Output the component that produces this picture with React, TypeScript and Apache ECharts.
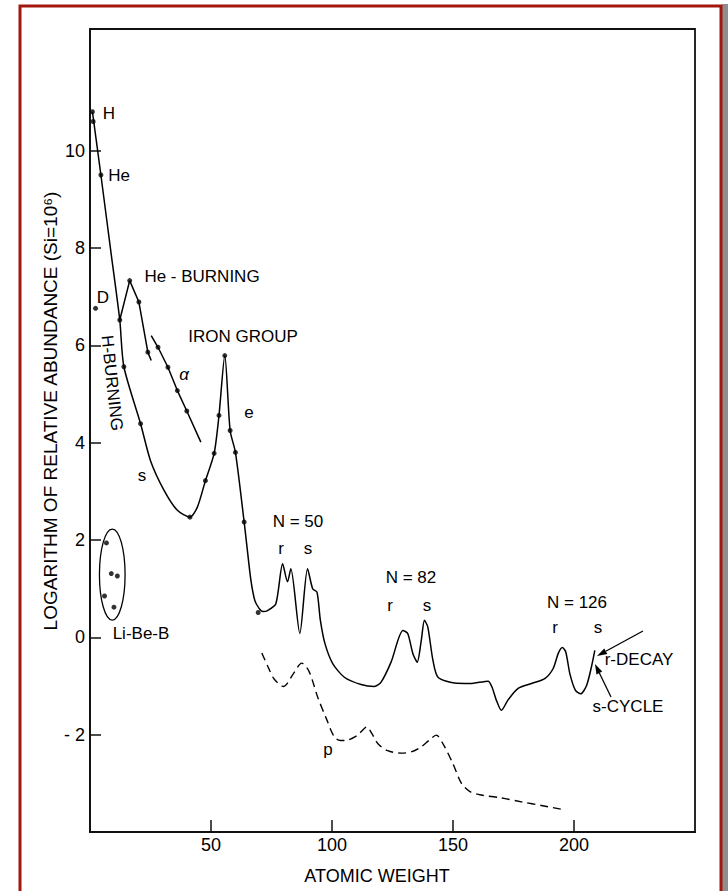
import React, { useEffect, useRef } from "react";
import * as echarts from "echarts";

// Atomic weight (x) and log abundance, Si = 10^6 (y)
const mainWeight = [1, 4.5, 8.5, 12.3, 14, 20.9, 25, 30.6, 36.1, 41.3, 44.4, 47.7, 51.3, 53.3, 55.7, 57.9, 60.1, 63.7, 64.8, 66.5, 68.1, 69.8, 71.4, 73.4, 76.8, 79.6, 81.6, 83, 86.7, 89.9, 92, 93.8, 95.2, 97.1, 100.3, 105.1, 112, 117.5, 120.3, 124.4, 129.3, 131.3, 133.4, 135.2, 136.9, 138.2, 139.6, 141.7, 143.8, 150.6, 157, 164.5, 166.1, 167.9, 170, 172.7, 176.9, 182.4, 187.9, 191.4, 193.5, 195.2, 196.6, 198.3, 200.6, 202.8, 205.2, 207.2, 208.6];
const mainLogAb = [10.8, 9.5, 7.97, 6.52, 5.56, 4.39, 3.63, 3.02, 2.61, 2.47, 2.68, 3.22, 3.78, 4.56, 5.79, 4.25, 3.8, 2.37, 1.89, 1.17, 0.76, 0.6, 0.53, 0.55, 0.69, 1.51, 1.14, 1.41, 0.08, 1.41, 1.0, 0.93, 0.35, -0.13, -0.54, -0.82, -0.97, -1.01, -0.92, -0.51, 0.14, 0.08, -0.33, -0.51, -0.06, 0.35, 0.21, -0.47, -0.82, -0.94, -0.95, -0.9, -1.02, -1.29, -1.5, -1.29, -1.05, -0.95, -0.85, -0.64, -0.33, -0.21, -0.3, -0.75, -1.09, -1.16, -0.99, -0.61, -0.27];

// He-burning branch
const heBurnWeight = [12.3, 16.4, 20.2, 23.9, 25.3];
const heBurnLogAb = [6.52, 7.33, 6.89, 5.86, 5.69];

// alpha-process line
const alphaWeight = [25.3, 28.1, 32.2, 36.1, 40, 45.8];
const alphaLogAb = [6.2, 5.96, 5.55, 5.07, 4.65, 4.01];

// p-process (dashed)
const pWeight = [71, 73.5, 76, 80, 84, 87.5, 90.5, 94.1, 97.5, 101, 103.5, 106.5, 110.6, 114.4, 116.5, 118.9, 123, 128.6, 133, 136.9, 140.5, 143.1, 146, 150, 153.5, 157, 161.7, 170, 178.3, 187, 195.5];
const pLogAb = [-0.32, -0.6, -0.85, -1.01, -0.75, -0.53, -0.7, -1.23, -1.65, -2.05, -2.12, -2.11, -2.01, -1.84, -1.98, -2.18, -2.33, -2.38, -2.35, -2.25, -2.1, -2.01, -2.2, -2.6, -3.0, -3.17, -3.24, -3.3, -3.38, -3.46, -3.54];

// measured points
const dotWeight = [1, 1.3, 4.5, 2.3, 12.3, 14, 20.9, 16.4, 20.2, 23.9, 28.1, 32.2, 36.1, 40, 41.3, 47.7, 51.3, 53.3, 55.7, 57.9, 60.1, 63.7, 69.5, 6.8, 8.8, 11.3, 6, 9.9];
const dotLogAb = [10.8, 10.6, 9.5, 6.76, 6.52, 5.56, 4.39, 7.33, 6.89, 5.86, 5.96, 5.55, 5.07, 4.65, 2.47, 3.22, 3.78, 4.56, 5.79, 4.25, 3.8, 2.37, 0.51, 1.94, 1.31, 1.26, 0.85, 0.62];

// Li-Be-B group outline: centre and half-extents in data units
const lightGroupCentre = [9.2, 1.29];
const lightGroupHalf = [5.3, 0.935];

const xTicks = [50, 100, 150, 200];
const yTicks = [-2, 0, 2, 4, 6, 8, 10];

const FONT = "Liberation Sans";

function zip(a: number[], b: number[]) {
  return a.map((v, i) => [v, b[i]]);
}

function arrow(x1: number, y1: number, x2: number, y2: number) {
  const ang = Math.atan2(y2 - y1, x2 - x1);
  const len = 10;
  const half = 3.2;
  const bx = x2 - Math.cos(ang) * len;
  const by = y2 - Math.sin(ang) * len;
  const nx = -Math.sin(ang);
  const ny = Math.cos(ang);
  return [
    { type: "line", shape: { x1, y1, x2: bx, y2: by }, style: { stroke: "#000", lineWidth: 1.3 } },
    {
      type: "polygon",
      shape: { points: [[x2, y2], [bx + nx * half, by + ny * half], [bx - nx * half, by - ny * half]] },
      style: { fill: "#000" },
    },
  ];
}

function label(text: string, x: number, y: number, size = 17, extra: any = {}) {
  const { fontStyle, ...rest } = extra;
  return {
    type: "text",
    x,
    y,
    ...rest,
    style: {
      text,
      fill: "#000",
      font: `${fontStyle || "normal"} ${size}px "${FONT}"`,
      textAlign: "center",
      textVerticalAlign: "middle",
    },
  };
}

export default function App() {
  const ref = useRef<HTMLDivElement>(null);

  useEffect(() => {
    if (!ref.current) return;
    const chart = echarts.init(ref.current, undefined, { renderer: "svg" });
    const lineCommon = {
      type: "line",
      showSymbol: false,
      symbol: "none",
      lineStyle: { color: "#000", width: 1.5 },
      z: 3,
    };
    chart.setOption({
      animation: false,
      backgroundColor: "#fff",
      grid: {
        left: 90,
        top: 29,
        width: 605,
        height: 803,
        show: true,
        borderColor: "#111",
        borderWidth: 1.8,
        backgroundColor: "transparent",
      },
      xAxis: {
        type: "value",
        min: 0,
        max: 250,
        axisLine: { show: true, onZero: false, lineStyle: { color: "#111", width: 1.8 } },
        axisTick: { show: true, inside: true, length: 12, customValues: xTicks, lineStyle: { color: "#111", width: 1.5 } },
        axisLabel: { customValues: xTicks, color: "#000", fontSize: 18, fontFamily: FONT, margin: 4 },
        splitLine: { show: false },
      },
      yAxis: {
        type: "value",
        min: -4,
        max: 12.5,
        axisLine: { show: true, onZero: false, lineStyle: { color: "#111", width: 1.8 } },
        axisTick: { show: true, inside: true, length: 11, customValues: yTicks, lineStyle: { color: "#111", width: 1.5 } },
        axisLabel: {
          customValues: yTicks,
          color: "#000",
          fontSize: 18,
          fontFamily: FONT,
          margin: 5,
          formatter: (v: number) => (v < 0 ? "- " + Math.abs(v) : String(v)),
        },
        splitLine: { show: false },
      },
      series: [
        { ...lineCommon, name: "abundance", smooth: 0.25, data: zip(mainWeight, mainLogAb) },
        { ...lineCommon, name: "He-burning", smooth: false, data: zip(heBurnWeight, heBurnLogAb) },
        { ...lineCommon, name: "alpha", smooth: false, data: zip(alphaWeight, alphaLogAb) },
        {
          ...lineCommon,
          name: "p",
          smooth: 0.3,
          lineStyle: { color: "#000", width: 1.4, type: [8, 5] },
          data: zip(pWeight, pLogAb),
        },
        {
          type: "scatter",
          name: "measured",
          symbolSize: 5,
          itemStyle: { color: "#000" },
          data: zip(dotWeight, dotLogAb),
          z: 4,
        },
      ],
    });

    const c = chart.convertToPixel({ gridIndex: 0 }, lightGroupCentre) as number[];
    const e = chart.convertToPixel(
      { gridIndex: 0 },
      [lightGroupCentre[0] + lightGroupHalf[0], lightGroupCentre[1] + lightGroupHalf[1]]
    ) as number[];

    chart.setOption({
      graphic: [
        // page frame
        { type: "rect", shape: { x: 722, y: 4, width: 6, height: 900 }, style: { fill: "#8e8e8e" }, silent: true },
        { type: "rect", shape: { x: 20, y: 6, width: 701, height: 900 }, style: { fill: "none", stroke: "#a3170c", lineWidth: 3 }, silent: true },
        {
          type: "ellipse",
          shape: { cx: c[0], cy: c[1], rx: Math.abs(e[0] - c[0]), ry: Math.abs(e[1] - c[1]) },
          style: { fill: "none", stroke: "#000", lineWidth: 1.3 },
        },
        label("LOGARITHM OF RELATIVE ABUNDANCE (Si=10\u2076)", 50, 411, 19, { rotation: Math.PI / 2 }),
        label("ATOMIC WEIGHT", 377, 876, 18),
        label("H", 109, 113),
        label("He", 119, 175),
        label("D", 103, 297),
        label("He - BURNING", 202, 276),
        label("H-BURNING", 112, 383, 17, { rotation: (-84 * Math.PI) / 180 }),
        label("IRON GROUP", 243, 336),
        label("\u03b1", 184, 374, 17, { fontStyle: "italic" }),
        label("e", 249, 412),
        label("s", 142, 475),
        label("N = 50", 298, 521),
        label("r", 281, 548),
        label("s", 308, 548),
        label("N = 82", 411, 577),
        label("r", 390, 605),
        label("s", 427, 605),
        label("N = 126", 577, 602),
        label("r", 555, 627),
        label("s", 598, 627),
        label("r-DECAY", 639, 659),
        label("s-CYCLE", 628, 706),
        label("Li-Be-B", 141, 633),
        label("p", 328, 749),
        ...arrow(643, 631, 597, 656),
        ...arrow(611, 697, 595, 664),
      ],
    });

    return () => chart.dispose();
  }, []);

  return (
    <div
      ref={ref}
      style={{ position: "fixed", left: 0, top: 0, width: 728, height: 891, background: "#fff" }}
    />
  );
}
